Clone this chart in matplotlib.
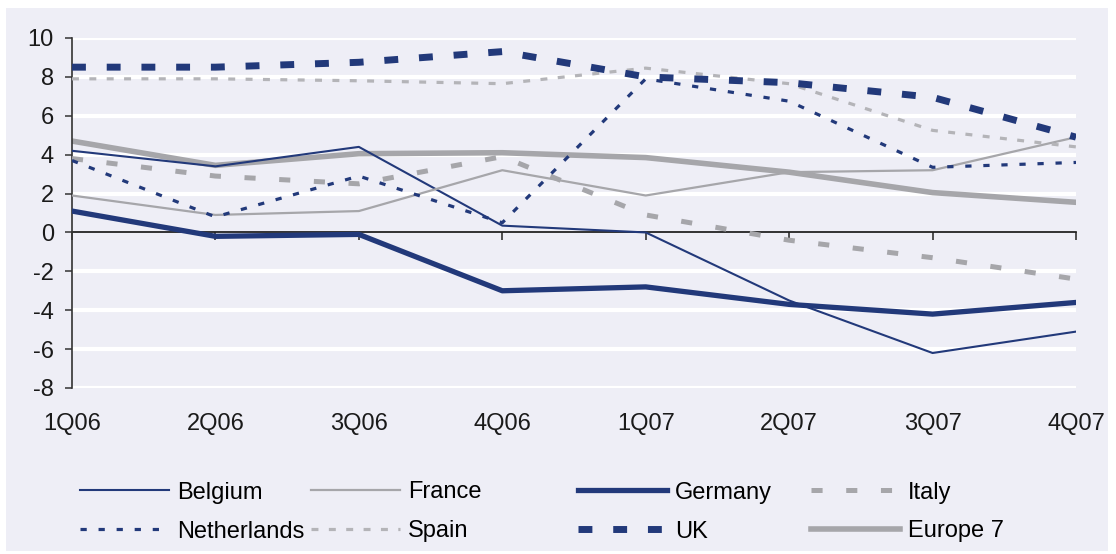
import matplotlib
matplotlib.use("Agg")
import matplotlib.pyplot as plt
from matplotlib.patches import Rectangle

plt.rcParams["font.family"] = ["Liberation Sans", "DejaVu Sans"]
plt.rcParams["lines.scale_dashes"] = False
plt.rcParams["axes.unicode_minus"] = False

# Quarterly growth by market (%)
quarters = ["1Q06", "2Q06", "3Q06", "4Q06", "1Q07", "2Q07", "3Q07", "4Q07"]
belgium = [4.2, 3.4, 4.4, 0.35, 0.0, -3.5, -6.2, -5.1]
france = [1.9, 0.9, 1.1, 3.2, 1.9, 3.1, 3.2, 4.9]
germany = [1.1, -0.2, -0.1, -3.0, -2.8, -3.7, -4.2, -3.6]
italy = [3.8, 2.9, 2.5, 3.9, 0.9, -0.4, -1.3, -2.4]
netherlands = [3.7, 0.8, 2.9, 0.5, 7.9, 6.75, 3.35, 3.6]
spain = [7.9, 7.9, 7.8, 7.65, 8.45, 7.65, 5.25, 4.4]
uk = [8.5, 8.5, 8.75, 9.3, 8.0, 7.7, 6.95, 4.9]
europe7 = [4.7, 3.45, 4.05, 4.1, 3.85, 3.1, 2.05, 1.55]

W, H = 1116, 554
NAVY = "#22397a"
GRAY = "#a6a6aa"
LIGHT = "#b4b4b8"
BG = "#eeeef6"
FS = 17

fig = plt.figure(figsize=(W / 100, H / 100), dpi=100, facecolor="white")
fig.patches.append(Rectangle((6 / W, 3 / H), 1102 / W, 543 / H,
                             transform=fig.transFigure, facecolor=BG,
                             edgecolor="none", zorder=-10))

ax = fig.add_axes([72 / W, 1 - 388 / H, (1076 - 72) / W, (388 - 38) / H])
ax.set_facecolor("none")
ax.set_xlim(0, 7)
ax.set_ylim(-8, 10)

for v in [-8, -6, -4, -2, 2, 4, 6, 8, 10]:
    ax.axhline(v, color="white", lw=3, zorder=0)

x = list(range(len(quarters)))
l_be, = ax.plot(x, belgium, color=NAVY, lw=1.5, label="Belgium", zorder=3)
l_fr, = ax.plot(x, france, color=GRAY, lw=1.6, label="France", zorder=3)
l_de, = ax.plot(x, germany, color=NAVY, lw=3.8, label="Germany", zorder=3)
l_it, = ax.plot(x, italy, color=GRAY, lw=3.6, dashes=(8, 17), label="Italy", zorder=3)
l_nl, = ax.plot(x, netherlands, color=NAVY, lw=2.3, dashes=(4.5, 8.5),
                label="Netherlands", zorder=3)
l_es, = ax.plot(x, spain, color=LIGHT, lw=2.3, dashes=(5, 7.5), label="Spain", zorder=3)
l_uk, = ax.plot(x, uk, color=NAVY, lw=5, dashes=(10, 15), label="UK", zorder=3)
l_eu, = ax.plot(x, europe7, color=GRAY, lw=4, label="Europe 7", zorder=2)

for s in ["top", "right"]:
    ax.spines[s].set_visible(False)
ax.spines["left"].set_color("#333333")
ax.spines["left"].set_linewidth(1.2)
ax.spines["bottom"].set_position(("data", 0))
ax.spines["bottom"].set_color("#111111")
ax.spines["bottom"].set_linewidth(1.2)
ax.spines["bottom"].set_zorder(1)

ax.set_xticks(x)
ax.tick_params(axis="x", direction="out", length=6, width=1.1,
               color="#222222", labelbottom=False)
ax.set_yticks(range(-8, 11, 2))
ax.tick_params(axis="y", direction="out", length=5, width=1.1,
               color="#333333", pad=8, labelsize=FS, labelcolor="#1a1a1a")

sec = ax.secondary_xaxis("bottom")
sec.set_xticks(x, labels=quarters)
sec.tick_params(length=0, pad=18, labelsize=FS, labelcolor="#1a1a1a")
sec.spines["bottom"].set_visible(False)

columns = [
    ([l_be, l_nl], 80),
    ([l_fr, l_es], 311),
    ([l_de, l_uk], 578),
    ([l_it, l_eu], 811),
]
for handles, px in columns:
    fig.legend(handles, [h.get_label() for h in handles], loc="center left",
               bbox_to_anchor=(px / W, 1 - 512 / H), frameon=False,
               fontsize=FS, handlelength=3.75, handletextpad=0.35,
               labelspacing=0.72, borderpad=0, borderaxespad=0)

fig.savefig("out.png", dpi=100, facecolor="white")
